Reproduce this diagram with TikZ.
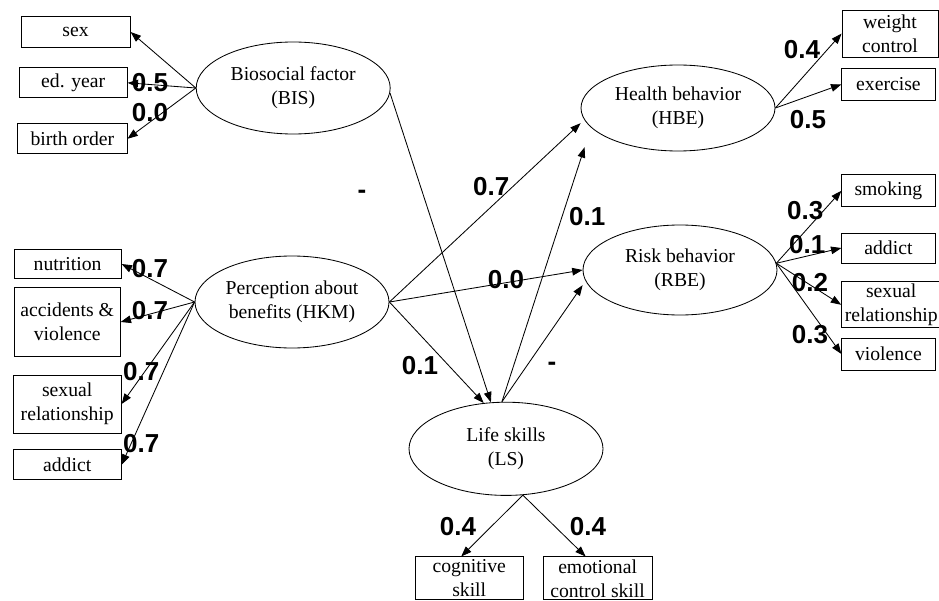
\documentclass[tikz,border=0pt]{standalone}
\usepackage{fontspec}
\setmainfont{Liberation Serif}
\newfontfamily\coeffont{Liberation Sans}
\usetikzlibrary{shapes.geometric,arrows.meta}
\pgfdeclarelayer{bg}
\pgfsetlayers{bg,main}
\tikzset{
    every node/.style={inner sep=0mm, align=center, font=\fontsize{14}{17}\selectfont},
    obs/.style={rectangle, draw, line width=0.6pt},
    latent/.style={ellipse, draw, line width=0.6pt, minimum width=4.85cm, minimum height=2.3cm},
    coef/.style={font=\coeffont\bfseries\fontsize{18.5}{19}\selectfont},
    link/.style={->, line width=0.6pt}
}
\tikzset{>={Triangle[length=2.6mm,width=1.9mm]}}

\begin{document}
\begin{tikzpicture}
    \useasboundingbox (0cm, 0cm) rectangle (23.475cm, 15cm);

    % latent variables
    \node (bis) at (7.33cm, 12.80cm) [latent] {Biosocial factor\\(BIS)};
    \node (hkm) at (7.30cm, 7.45cm) [latent] {Perception about\\benefits (HKM)};
    \node (hbe) at (16.95cm, 12.30cm) [latent, minimum height=2.15cm] {Health behavior\\(HBE)};
    \node (rbe) at (17.00cm, 8.25cm) [latent, minimum height=2.25cm] {Risk behavior\\(RBE)};
    \node (ls) at (12.65cm, 3.78cm) [latent, minimum height=2.33cm] {Life skills\\(LS)};

    % observed, left
    \node (sex) at (1.89cm, 14.20cm) [obs, minimum width=2.73cm, minimum height=0.78cm] {sex};
    \node (edyear) at (1.83cm, 12.93cm) [obs, minimum width=2.70cm, minimum height=0.75cm] {ed. year};
    \node (birth) at (1.81cm, 11.53cm) [obs, minimum width=2.73cm, minimum height=0.75cm] {birth order};
    \node (nutri) at (1.69cm, 8.40cm) [obs, minimum width=2.68cm, minimum height=0.73cm] {nutrition};
    \node (accid) at (1.68cm, 6.95cm) [obs, minimum width=2.65cm, minimum height=1.73cm] {accidents \&\\violence};
    \node (sexl) at (1.68cm, 4.90cm) [obs, minimum width=2.70cm, minimum height=1.45cm] {sexual\\relationship};
    \node (addl) at (1.68cm, 3.38cm) [obs, minimum width=2.70cm, minimum height=0.75cm] {addict};

    % observed, right
    \node (weight) at (22.25cm, 14.16cm) [obs, minimum width=2.40cm, minimum height=1.18cm] {weight\\control};
    \node (exer) at (22.21cm, 12.89cm) [obs, minimum width=2.33cm, minimum height=0.78cm] {exercise};
    \node (smok) at (22.21cm, 10.23cm) [obs, minimum width=2.33cm, minimum height=0.80cm] {smoking};
    \node (addr) at (22.21cm, 8.80cm) [obs, minimum width=2.33cm, minimum height=0.75cm] {addict};
    \node (sexr) at (22.28cm, 7.38cm) [obs, minimum width=2.48cm, minimum height=1.15cm] {sexual\\relationship};
    \node (viol) at (22.21cm, 6.15cm) [obs, minimum width=2.33cm, minimum height=0.80cm] {violence};

    % observed, bottom
    \node (cog) at (11.73cm, 0.54cm) [obs, minimum width=2.70cm, minimum height=1.075cm] {cognitive\\skill};
    \node (emo) at (14.94cm, 0.54cm) [obs, minimum width=2.73cm, minimum height=1.075cm] {emotional\\control skill};

    \begin{pgfonlayer}{bg}
        \draw (bis.west) edge[link] (sex.east);
        \draw (bis.west) edge[link] (edyear.east);
        \draw (bis.west) edge[link] (birth.east);

        \draw (hkm.west) edge[link] (nutri.east);
        \draw (hkm.west) edge[link] (accid.east);
        \draw (hkm.west) edge[link] (sexl.east);
        \draw (hkm.west) edge[link] (addl.east);

        \draw (hbe.east) edge[link] (weight.west);
        \draw (hbe.east) edge[link] (exer.west);

        \draw (rbe.4) edge[link] (smok.west);
        \draw (rbe.4) edge[link] (addr.west);
        \draw (rbe.4) edge[link] (sexr.west);
        \draw (rbe.4) edge[link] (viol.west);

        \draw (ls.-70) edge[link] ([xshift=-2mm]cog.north);
        \draw (ls.-70) edge[link] ([xshift=-3mm]emo.north);

        \draw (bis.-3) edge[link] (ls.108);
        \draw (hkm.east) edge[link] ([yshift=-0.38cm]hbe.west);
        \draw (hkm.east) edge[link] (rbe.west);
        \draw (hkm.east) edge[link] (ls.116);
        \draw (ls.95) edge[link] ([xshift=1mm, yshift=-0.98cm]hbe.west);
        \draw (ls.95) edge[link] ([yshift=-0.38cm]rbe.west);
    \end{pgfonlayer}

    % coefficients
    \node (c1) at (3.75cm, 12.93cm) [coef] {0.5};
    \node (c2) at (3.75cm, 12.18cm) [coef] {0.0};
    \node (c3) at (3.75cm, 8.28cm) [coef] {0.7};
    \node (c4) at (3.75cm, 7.23cm) [coef] {0.7};
    \node (c5) at (3.53cm, 5.70cm) [coef] {0.7};
    \node (c6) at (3.53cm, 3.90cm) [coef] {0.7};
    \node (c7) at (12.28cm, 10.33cm) [coef] {0.7};
    \node (c8) at (12.65cm, 8.00cm) [coef] {0.0};
    \node (c9) at (10.50cm, 5.85cm) [coef] {0.1};
    \node (c10) at (9.05cm, 10.15cm) [coef] {-};
    \node (c11) at (13.80cm, 5.83cm) [coef] {-};
    \node (c12) at (14.68cm, 9.58cm) [coef] {0.1};
    \node (c13) at (20.05cm, 13.75cm) [coef] {0.4};
    \node (c14) at (20.20cm, 12.00cm) [coef] {0.5};
    \node (c15) at (20.13cm, 9.73cm) [coef] {0.3};
    \node (c16) at (20.18cm, 8.88cm) [coef] {0.1};
    \node (c17) at (20.25cm, 7.93cm) [coef] {0.2};
    \node (c18) at (20.25cm, 6.63cm) [coef] {0.3};
    \node (c19) at (11.45cm, 1.83cm) [coef] {0.4};
    \node (c20) at (14.70cm, 1.83cm) [coef] {0.4};
\end{tikzpicture}
\end{document}
